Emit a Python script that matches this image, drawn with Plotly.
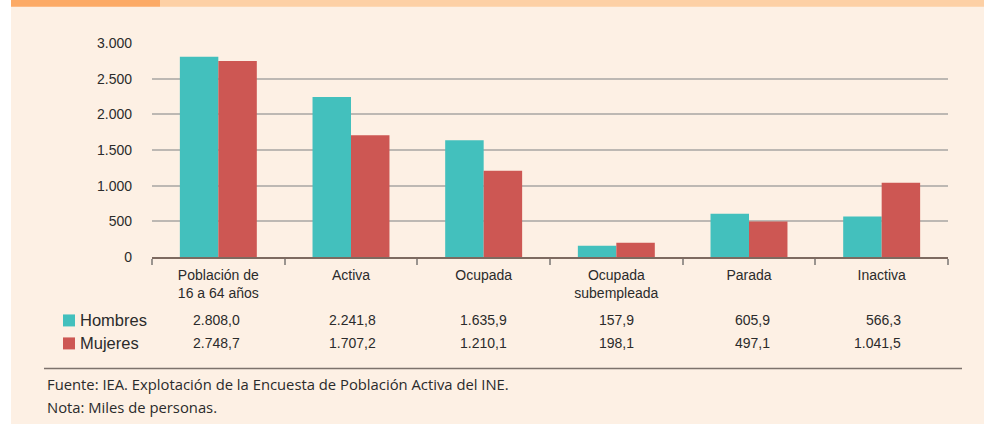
import plotly.graph_objects as go

categories = ["Población de<br>16 a 64 años", "Activa", "Ocupada", "Ocupada<br>subempleada", "Parada", "Inactiva"]
hombres = [2808.0, 2241.8, 1635.9, 157.9, 605.9, 566.3]
mujeres = [2748.7, 1707.2, 1210.1, 198.1, 497.1, 1041.5]
hombres_txt = ["2.808,0", "2.241,8", "1.635,9", "157,9", "605,9", "566,3"]
mujeres_txt = ["2.748,7", "1.707,2", "1.210,1", "198,1", "497,1", "1.041,5"]
y_ticks = [0, 500, 1000, 1500, 2000, 2500, 3000]
y_ticktext = ["0", "500", "1.000", "1.500", "2.000", "2.500", "3.000"]

# table column right-edge offsets from category centres (layout only)
col_xshift = [24, 27, 25, 20, 23, 21]

W, H = 984, 424
L, R, T, B = 152, 948, 43.3, 257.5

def px(x):
    return (x - L) / (R - L)

def py(y):
    return (B - y) / (B - T)

TEAL = "#43c0bd"
RED = "#cd5753"
CREAM = "#fdf0e4"
TXT = "#2b2b2b"

fig = go.Figure()
fig.add_trace(go.Bar(name="Hombres", x=categories, y=hombres, marker=dict(color=TEAL, line=dict(width=0)), hoverinfo="y"))
fig.add_trace(go.Bar(name="Mujeres", x=categories, y=mujeres, marker=dict(color=RED, line=dict(width=0)), hoverinfo="y"))

shapes = [
    dict(type="rect", xref="paper", yref="paper", x0=px(11), x1=px(990), y0=py(430), y1=py(0), fillcolor=CREAM, line=dict(width=0), layer="below"),
    dict(type="rect", xref="paper", yref="paper", x0=px(160), x1=px(990), y0=py(7), y1=py(0), fillcolor="#fdd0a5", line=dict(width=0), layer="below"),
    dict(type="rect", xref="paper", yref="paper", x0=px(11), x1=px(160), y0=py(7), y1=py(0), fillcolor="#fcaa66", line=dict(width=0), layer="below"),
    dict(type="line", xref="paper", yref="paper", x0=px(44), x1=px(962), y0=py(369), y1=py(369), line=dict(color="#7d726c", width=1.5)),
    dict(type="rect", xref="paper", yref="paper", x0=px(63), x1=px(75), y0=py(327), y1=py(315), fillcolor=TEAL, line=dict(width=0)),
    dict(type="rect", xref="paper", yref="paper", x0=px(63), x1=px(75), y0=py(350), y1=py(338), fillcolor=RED, line=dict(width=0)),
]

annotations = [
    dict(text="Hombres", x=px(78), y=py(321), xref="paper", yref="paper", xanchor="left", yanchor="middle", showarrow=False, font=dict(size=16.5, color=TXT, family="Liberation Sans, Arial, sans-serif")),
    dict(text="Mujeres", x=px(78), y=py(344), xref="paper", yref="paper", xanchor="left", yanchor="middle", showarrow=False, font=dict(size=16.5, color=TXT, family="Liberation Sans, Arial, sans-serif")),
    dict(text="Fuente: IEA. Explotación de la Encuesta de Población Activa del INE.", x=px(45), y=py(385), xref="paper", yref="paper", xanchor="left", yanchor="middle", showarrow=False, font=dict(size=14.8, color=TXT, family="Open Sans, sans-serif")),
    dict(text="Nota: Miles de personas.", x=px(45), y=py(408), xref="paper", yref="paper", xanchor="left", yanchor="middle", showarrow=False, font=dict(size=14.8, color=TXT, family="Open Sans, sans-serif")),
]
for i, c in enumerate(categories):
    for txt, yy in ((hombres_txt[i], 321), (mujeres_txt[i], 344)):
        annotations.append(dict(text=txt, x=c, xref="x", y=py(yy), yref="paper", xanchor="right", yanchor="middle", xshift=col_xshift[i], showarrow=False, font=dict(size=14, color=TXT, family="Liberation Sans, Arial, sans-serif")))

fig.update_layout(
    width=W, height=H,
    margin=dict(l=L, r=W - R, t=T, b=H - B, pad=0),
    paper_bgcolor=CREAM, plot_bgcolor=CREAM,
    barmode="group", bargap=0.42, bargroupgap=0,
    showlegend=False,
    font=dict(family="Liberation Sans, Arial, sans-serif", size=14, color=TXT),
    shapes=shapes, annotations=annotations,
    xaxis=dict(type="category", showline=True, linecolor="#7d6a60", linewidth=2, ticks="outside", tickson="boundaries", ticklen=6, tickcolor="#9a948f", tickwidth=1.5, showgrid=False, ticklabelstandoff=4, tickfont=dict(size=14, color=TXT)),
    yaxis=dict(range=[0, 3000], tickvals=y_ticks, ticktext=y_ticktext, showgrid=True, gridcolor="#bdb8b3", gridwidth=1.5, zeroline=False, showline=False, ticks="", ticklabelstandoff=19, tickfont=dict(size=14, color=TXT)),
)
# white strip at the far left
fig.add_shape(type="rect", xref="paper", yref="paper", x0=px(-5), x1=px(11), y0=py(430), y1=py(-5), fillcolor="white", line=dict(width=0), layer="below")

fig.write_html(
    "out.html",
    config={"displayModeBar": False},
    post_script="document.documentElement.style.overflow='hidden';document.body.style.margin='0';document.body.style.overflow='hidden';document.body.style.background='#fdf0e4';",
)
